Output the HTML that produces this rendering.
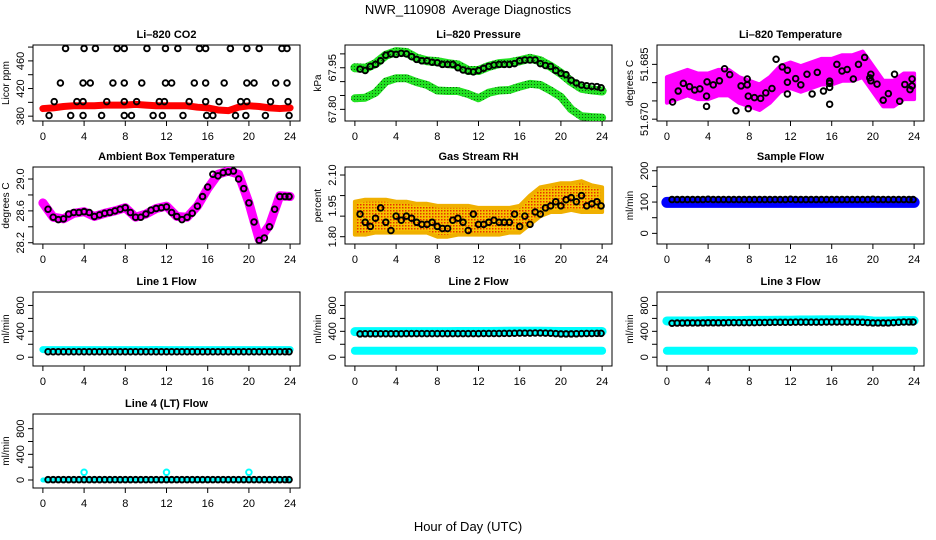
<!DOCTYPE html>
<html><head><meta charset="utf-8"><style>
html,body{margin:0;padding:0;background:#fff}
svg{display:block;font-family:"Liberation Sans",sans-serif}
</style></head><body>
<svg id="chart" width="936" height="540" viewBox="0 0 936 540">
<defs>
<pattern id="rhpat" width="3" height="3" patternUnits="userSpaceOnUse"><rect width="3" height="3" fill="#f5c400"/><rect width="1.5" height="1.5" fill="#e83000"/></pattern>
<pattern id="grpat" width="3" height="3" patternUnits="userSpaceOnUse"><rect width="3" height="3" fill="#22e022"/><rect width="1" height="1" fill="#106010"/></pattern>
</defs>
<text x="468" y="14" text-anchor="middle" font-size="13">NWR_110908&#160; Average Diagnostics</text>
<text x="468" y="531" text-anchor="middle" font-size="13">Hour of Day (UTC)</text>
</svg>
<script>
const HOURS=[0,1,2,3,4,5,6,7,8,9,10,11,12,13,14,15,16,17,18,19,20,21,22,23,24];
const FT=[0.5,1,1.5,2,2.5,3,3.5,4,4.5,5,5.5,6,6.5,7,7.5,8,8.5,9,9.5,10,10.5,11,11.5,12,12.5,13,13.5,14,14.5,15,15.5,16,16.5,17,17.5,18,18.5,19,19.5,20,20.5,21,21.5,22,22.5,23,23.5,23.9];
const XTICKS=[0,4,8,12,16,20,24];
// CO2
const co2Red=[391,392,394,395,395,395,396,396,396,397,396,395,395,395,395,393,392,389,388,393,395,394,392,391,392];
const co2Hours=[2.2,4.0,5.1,7.2,7.9,10.1,11.9,13.1,15.2,15.8,18.2,19.8,21.0,23.2,23.7,1.7,3.9,4.6,6.8,7.9,9.6,11.9,12.5,14.7,15.8,17.6,19.8,20.5,22.6,23.7,1.1,3.3,3.9,6.2,7.9,9.1,11.3,11.8,14.2,15.8,17.1,19.2,19.8,22.1,23.8,0.6,2.7,3.9,5.7,7.9,8.6,10.7,11.6,13.6,15.9,16.5,18.7,19.7,21.6,23.9];
const co2Vals=[478,478,478,478,478,478,478,478,478,478,478,478,478,478,478,428,428,428,428,428,428,428,428,428,428,428,428,428,428,428,401,401,401,401,401,401,401,401,401,401,401,401,401,401,401,381,381,381,381,381,381,381,381,381,381,381,381,381,381,381];
// Pressure
const presUpper=[67.950,67.948,67.965,67.995,68.008,68.005,67.985,67.975,67.972,67.965,67.960,67.940,67.940,67.955,67.965,67.968,67.975,67.984,67.975,67.955,67.930,67.900,67.876,67.870,67.866];
const presLower=[67.840,67.842,67.860,67.900,67.912,67.912,67.898,67.888,67.868,67.866,67.866,67.855,67.840,67.860,67.868,67.870,67.882,67.892,67.888,67.868,67.845,67.800,67.775,67.772,67.770];
const presBlack=[67.945,67.940,67.955,67.962,67.975,67.995,68.000,67.998,68.002,68.000,67.990,67.980,67.975,67.975,67.970,67.968,67.962,67.962,67.962,67.950,67.942,67.938,67.935,67.940,67.948,67.955,67.960,67.962,67.962,67.962,67.965,67.975,67.978,67.978,67.978,67.965,67.958,67.955,67.940,67.930,67.925,67.905,67.895,67.888,67.885,67.883,67.882,67.878];
// Li-820 temperature
const tempUpper=[51.6815,51.6825,51.6835,51.6825,51.6825,51.6835,51.6835,51.6815,51.6805,51.6795,51.6815,51.6845,51.6855,51.6845,51.6855,51.6865,51.6865,51.6875,51.6875,51.6885,51.6845,51.6805,51.6805,51.6825,51.6825];
const tempLower=[51.6745,51.6755,51.6765,51.6755,51.6755,51.6765,51.6765,51.6745,51.6735,51.6725,51.6745,51.6775,51.6785,51.6775,51.6785,51.6795,51.6795,51.6805,51.6805,51.6815,51.6775,51.6735,51.6735,51.6755,51.6755];
const tempHours=[0.55,1.1,1.6,2.2,2.7,3.2,3.85,3.85,3.9,4.5,5.1,5.6,6.1,6.7,7.2,7.8,7.8,7.9,7.9,8.5,9.1,9.6,10.2,10.6,11.2,11.7,11.7,11.7,12.5,13.0,13.6,14.1,14.6,15.2,15.8,15.8,15.8,15.8,16.5,17.0,17.5,18.1,18.6,19.2,19.7,19.8,19.8,20.4,21.0,21.5,22.1,22.6,23.1,23.6,23.8,23.8];
const tempVals=[51.6747,51.6777,51.6798,51.6789,51.6780,51.6783,51.6763,51.6735,51.6802,51.6794,51.6805,51.6838,51.6822,51.6723,51.6791,51.6794,51.6810,51.6763,51.6729,51.6759,51.6757,51.6772,51.6784,51.6864,51.6843,51.6801,51.6834,51.6769,51.6811,51.6794,51.6823,51.6769,51.6828,51.6777,51.6804,51.6798,51.6787,51.6741,51.6850,51.6832,51.6836,51.6810,51.6850,51.6869,51.6813,51.6823,51.6805,51.6796,51.6752,51.6770,51.6823,51.6749,51.6795,51.6781,51.6791,51.6810];
// Ambient box temperature
const ambMag=[28.70,28.52,28.50,28.57,28.59,28.53,28.57,28.60,28.64,28.52,28.56,28.63,28.66,28.53,28.52,28.66,28.88,29.06,29.10,29.06,28.70,28.24,28.42,28.79,28.78];
const ambBlack=[28.62,28.52,28.49,28.50,28.56,28.58,28.58,28.59,28.58,28.53,28.55,28.57,28.58,28.60,28.62,28.64,28.58,28.52,28.52,28.56,28.61,28.63,28.64,28.65,28.58,28.53,28.49,28.52,28.57,28.66,28.78,28.90,29.06,29.04,29.08,29.09,29.10,29.00,28.88,28.70,28.46,28.23,28.26,28.40,28.62,28.78,28.78,28.78];
// Gas stream RH
const rhUpper=[1.97,1.98,1.98,1.98,1.97,1.97,1.96,1.96,1.95,1.95,1.95,1.95,1.94,1.94,1.94,1.94,1.95,2.00,2.04,2.05,2.06,2.06,2.07,2.05,2.04];
const rhLower=[1.81,1.81,1.82,1.82,1.82,1.82,1.82,1.82,1.80,1.80,1.81,1.81,1.81,1.81,1.81,1.82,1.82,1.86,1.90,1.92,1.92,1.93,1.92,1.92,1.92];
const rhBlack=[1.91,1.87,1.85,1.89,1.94,1.87,1.83,1.90,1.88,1.90,1.89,1.87,1.86,1.86,1.87,1.85,1.84,1.84,1.88,1.89,1.87,1.83,1.91,1.86,1.86,1.87,1.88,1.87,1.87,1.87,1.91,1.85,1.90,1.86,1.92,1.91,1.94,1.95,1.97,1.95,1.98,1.99,1.97,2.00,1.95,1.96,1.97,1.95];
// Flows
const sampleBlue=[99,99,99,99,99,99,99,99,99,99,99,99,99,99,99,99,99,99,99,99,99,99,99,99,99];
const sampleBlack=[108,108,108,108,108,108,108,109,108,108,108,108,108,108,108,108,108,108,108,108,108,108,108,109,108,108,108,108,108,108,108,108,108,108,108,108,108,108,108,109,108,108,108,108,108,108,108,108];
const line1Cyan=[118,118,118,118,118,118,118,118,118,118,118,120,118,118,118,118,118,118,118,118,118,118,118,118,118];
const line1Black=[85,85,85,85,85,85,85,85,85,85,85,85,85,85,85,85,85,85,85,85,85,85,85,85,85,85,85,85,85,85,85,85,85,85,85,85,85,85,85,85,85,85,85,85,85,85,85,85];
const line2CyanHi=[395,395,395,395,395,395,395,395,395,395,398,398,398,398,400,402,402,402,402,400,398,398,398,398,398];
const line2CyanLo=[100,100,100,100,100,100,100,100,100,100,100,100,100,100,100,100,100,100,100,100,100,100,100,100,100];
const line2Black=[360,362,362,362,363,363,363,363,363,364,364,364,364,364,364,364,364,364,364,364,364,364,364,364,366,366,366,366,368,368,370,372,372,372,374,374,372,370,365,360,360,360,362,364,366,366,368,368];
const line3CyanHi=[560,560,560,560,565,565,565,565,570,570,570,572,572,575,575,578,578,578,578,575,560,558,560,565,565];
const line3CyanLo=[100,100,100,100,100,100,100,100,100,100,100,100,100,100,100,100,100,100,100,100,100,100,100,100,100];
const line3Black=[525,528,528,530,530,530,530,532,532,532,532,535,535,535,535,535,535,536,536,538,540,540,540,540,542,542,542,542,542,542,545,545,545,545,545,545,542,540,535,530,530,530,530,535,540,545,545,545];
const line4Cyan=[0,0,0,0,0,0,0,0,0,0,0,0,0,0,0,0,0,0,0,0,0,0,0,0,0];
const line4SpikeHours=[4,12,20];
const line4SpikeVals=[120,120,120];
const line4Black=[5,5,5,5,5,5,5,5,5,5,5,5,5,5,5,5,5,5,5,5,5,5,5,5,5,5,5,5,5,5,5,5,5,5,5,5,5,5,5,5,5,5,5,5,5,5,5,5];

const NS='http://www.w3.org/2000/svg';
const svg=document.getElementById('chart');
function mk(tag,attrs,parent){const e=document.createElementNS(NS,tag);for(const k in attrs)e.setAttribute(k,attrs[k]);(parent||svg).appendChild(e);return e;}
const COLS=[33,345,657],W=267;
const ROWS=[[45,121],[167,244],[292,366],[414,488]];
function panel(col,row,ymin,ymax,yticks,ylabels,title,ylab,name){
  const x0=COLS[col],x1=x0+W,top=ROWS[row][0],bot=ROWS[row][1];
  const g=mk('g',{});
  
  
  const sx=v=>x0+(v+0.96)/25.92*W;
  const sy=v=>bot-(v-ymin)/(ymax-ymin)*(bot-top);
  const box=mk('rect',{x:x0,y:top,width:W,height:bot-top,fill:'none',stroke:'#000','stroke-width':1},g);
  
  
  const t=mk('text',{x:x0+W/2,y:top-7,'text-anchor':'middle','font-size':11,'font-weight':'bold'},g);
  t.textContent=title;
  
  
  const xa=mk('g',{},g);
  
  
  mk('line',{x1:sx(0),x2:sx(24),y1:bot,y2:bot,stroke:'#000'},xa);
  XTICKS.forEach(v=>{mk('line',{x1:sx(v),x2:sx(v),y1:bot,y2:bot+5,stroke:'#000'},xa);
    const l=mk('text',{x:sx(v),y:bot+19,'text-anchor':'middle','font-size':11},xa);l.textContent=v;});
  const ya=mk('g',{},g);
  
  
  mk('line',{x1:x0,x2:x0,y1:sy(yticks[0]),y2:sy(yticks[yticks.length-1]),stroke:'#000'},ya);
  yticks.forEach((v,i)=>{mk('line',{x1:x0-5,x2:x0,y1:sy(v),y2:sy(v),stroke:'#000'},ya);
    if(ylabels[i]!==''){const yy=ylabels[i][1]!==undefined&&typeof ylabels[i]==='object'?sy(ylabels[i][1]):sy(v);
      const txt=typeof ylabels[i]==='object'?ylabels[i][0]:ylabels[i];
      const l=mk('text',{x:x0-9,y:yy,'text-anchor':'middle','font-size':11,transform:`rotate(-90 ${x0-9} ${yy})`},ya);l.textContent=txt;}});
  const yt=mk('text',{x:x0-24,y:(top+bot)/2,'text-anchor':'middle','font-size':10,transform:`rotate(-90 ${x0-24} ${(top+bot)/2})`},g);
  yt.textContent=ylab;
  
  
  const clip=mk('clipPath',{id:'clip-'+name},g);mk('rect',{x:x0,y:top,width:W,height:bot-top},clip);
  const plot=mk('g',{'clip-path':`url(#clip-${name})`},g);
  return {sx,sy,g:plot};
}
function pts(p,xs,ys){return xs.map((x,i)=>p.sx(x)+','+p.sy(ys[i])).join(' ');}
function band(p,ys,color,w,nm){const e=mk('polyline',{points:pts(p,HOURS,ys),fill:'none',stroke:color,'stroke-width':w,'stroke-linejoin':'round','stroke-linecap':'round'},p.g);
  
  return e;}
function area(p,hi,lo,fill,nm){const P=HOURS.map((x,i)=>p.sx(x)+','+p.sy(hi[i])).concat(HOURS.slice().reverse().map((x,j)=>p.sx(x)+','+p.sy(lo[HOURS.length-1-j])));
  const e=mk('polygon',{points:P.join(' '),fill:fill,stroke:fill==='url(#rhpat)'?'#f0b000':'#ff00ff','stroke-width':4,'stroke-linejoin':'round'},p.g);
  
  }
function circles(p,xs,ys,color,nm){const g=mk('g',{},p.g);
  
  
  xs.forEach((x,i)=>mk('circle',{cx:p.sx(x),cy:p.sy(ys[i]),r:2.8,fill:'none',stroke:color,'stroke-width':1.9},g));}

// CO2
let p=panel(0,0,373,483,[380,400,420,440,460,480],['380','','420','','460',''],'Li\u2013820 CO2','Licor ppm','co2');
band(p,co2Red,'#ff0000',7,'co2-red-series');
circles(p,co2Hours,co2Vals,'#000','co2-black-points');
// Pressure
p=panel(1,0,67.758,68.032,[67.80,67.85,67.90,67.95,68.00],['67.80','','','67.95',''],'Li\u2013820 Pressure','kPa','pressure');
band(p,presUpper,'url(#grpat)',9,'pressure-upper-green');
band(p,presLower,'url(#grpat)',8,'pressure-lower-green');
circles(p,FT,presBlack,'#000','pressure-black-points');
// Temperature
p=panel(2,0,51.6695,51.6903,[51.670,51.675,51.680,51.685],['51.670','','','51.685'],'Li\u2013820 Temperature','degrees C','li820-temp');
area(p,tempUpper,tempLower,'#ff00ff','temp-magenta-band');
circles(p,tempHours,tempVals,'#000','temp-black-points');
// Ambient
p=panel(0,1,28.184,29.151,[28.2,28.4,28.6,28.8,29.0],['28.2','','28.6','','29.0'],'Ambient Box Temperature','degrees C','ambient');
band(p,ambMag,'#ff00ff',9,'ambient-magenta-series');
circles(p,FT,ambBlack,'#000','ambient-black-points');
// RH
p=panel(1,1,1.7645,2.139,[1.80,1.90,2.00,2.10],[['1.80'],'',['1.95',1.95],['2.10']],'Gas Stream RH','percent','rh');
area(p,rhUpper,rhLower,'url(#rhpat)','rh-orange-band');
circles(p,FT,rhBlack,'#000','rh-black-points');
// Sample flow
p=panel(2,1,-34,212,[0,50,100,150,200],['0','','100','','200'],'Sample Flow','ml/min','sample-flow');
band(p,sampleBlue,'#0000ff',11,'sample-blue-series');
circles(p,FT,sampleBlack,'#000','sample-black-points');
const FL=[0,200,400,600,800],FLL=['0','','400','','800'];
// Line1
p=panel(0,2,-136,1008,FL,FLL,'Line 1 Flow','ml/min','line1');
band(p,line1Cyan,'#00ffff',7,'line1-cyan-series');
circles(p,FT,line1Black,'#000','line1-black-points');
// Line2
p=panel(1,2,-136,1008,FL,FLL,'Line 2 Flow','ml/min','line2');
band(p,line2CyanHi,'#00ffff',9,'line2-cyan-upper');
band(p,line2CyanLo,'#00ffff',8,'line2-cyan-lower');
circles(p,FT,line2Black,'#000','line2-black-points');
// Line3
p=panel(2,2,-136,1008,FL,FLL,'Line 3 Flow','ml/min','line3');
band(p,line3CyanHi,'#00ffff',9,'line3-cyan-upper');
band(p,line3CyanLo,'#00ffff',8,'line3-cyan-lower');
circles(p,FT,line3Black,'#000','line3-black-points');
// Line4
p=panel(0,3,-125,1029,FL,FLL,'Line 4 (LT) Flow','ml/min','line4');
band(p,line4Cyan,'#00ffff',5,'line4-cyan-series');
circles(p,line4SpikeHours,line4SpikeVals,'#00ffff','line4-cyan-spikes');
circles(p,FT,line4Black,'#000','line4-black-points');
</script>
</body></html>
